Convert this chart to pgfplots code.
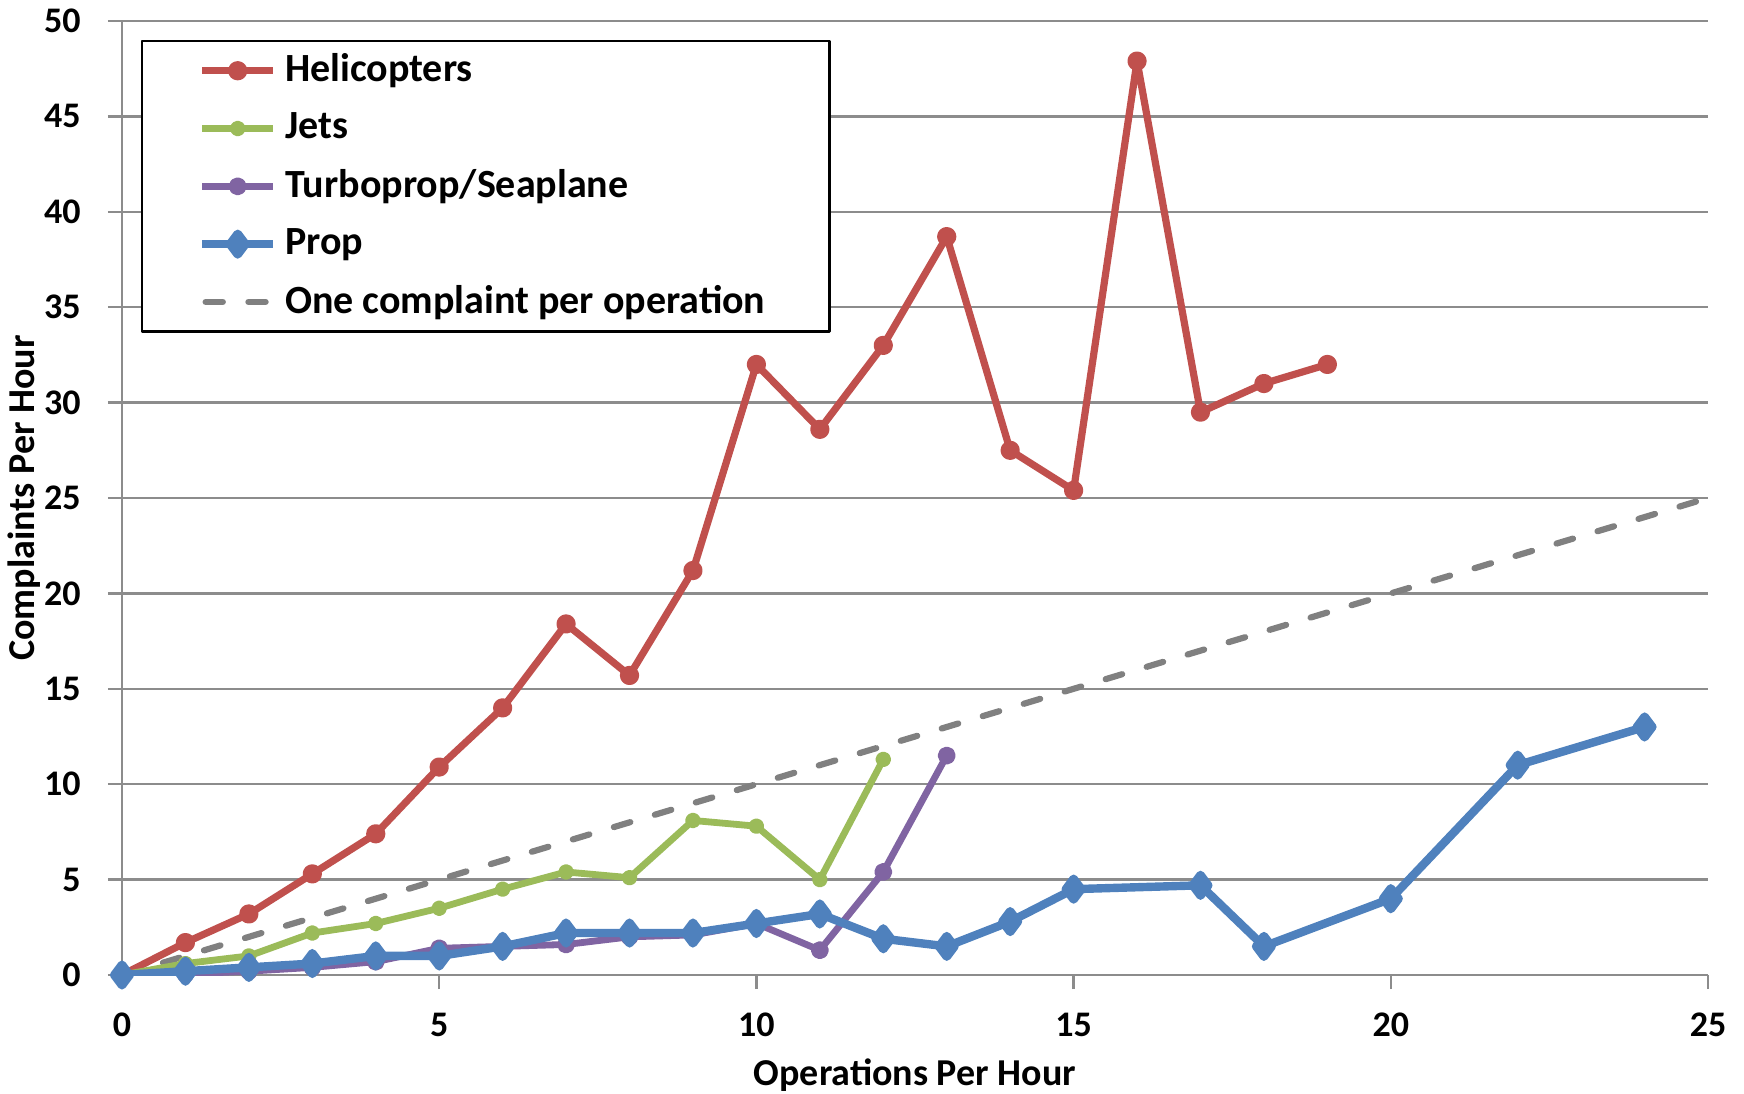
\documentclass[border=0pt]{standalone}
\usepackage{fontspec}
\setmainfont{Carlito}
\usepackage{pgfplots}
\pgfplotsset{compat=1.18}
\definecolor{cRed}{HTML}{C0504D}
\definecolor{cGreen}{HTML}{9BBB59}
\definecolor{cPurple}{HTML}{8064A2}
\definecolor{cBlue}{HTML}{4F81BD}
\definecolor{cGray}{HTML}{808080}
\definecolor{cGrid}{HTML}{8C8C8C}
\begin{document}
\begin{tikzpicture}
\begin{axis}[
  at={(0,0)}, anchor=south west,
  scale only axis, width=396.5pt, height=238.5pt,
  xmin=0, xmax=25, ymin=0, ymax=50,
  xtick={0,5,...,25}, ytick={0,5,...,50},
  axis lines*=left,
  axis line style={cGrid, line width=0.6pt},
  tick style={cGrid, line width=0.6pt},
  tick align=outside, major tick length=3.5pt,
  ymajorgrids, grid style={cGrid, line width=0.6pt},
  font=\bfseries\fontsize{9.5}{11}\selectfont,
  tick label style={font=\bfseries\fontsize{9}{11}\selectfont},
  /pgf/number format/assume math mode=true,
  xticklabel style={yshift=-2.5pt},
  yticklabel style={xshift=-3.3pt},
  xlabel={Operations Per Hour},
  ylabel={Complaints Per Hour},
  xlabel style={at={(axis description cs:0.5,0)}, anchor=center, yshift=-25pt},
  ylabel style={at={(axis description cs:0,0.5)}, anchor=center, yshift=24.4pt},
  legend style={at={(0.012,0.98)}, anchor=north west, draw=black, line width=0.6pt,
    font=\bfseries\fontsize{10}{12}\selectfont, inner xsep=14pt, inner ysep=1.1pt,
    row sep=2.2pt, cells={anchor=west}},
  legend image code/.code={
    \draw[mark repeat=2, mark phase=2] plot coordinates {(0cm,0cm) (0.31cm,0cm) (0.62cm,0cm)};},
  line join=round,
]
\addplot[forget plot, cGray, line width=1.55pt, line cap=round, dash pattern=on 4.3pt off 6.4pt] coordinates {(0,0) (25,25)};
\addplot[cRed, line width=1.8pt, mark=*, mark size=1.5pt, mark options={solid}] coordinates {
(0,0) (1,1.7) (2,3.2) (3,5.3) (4,7.4) (5,10.9) (6,14.0) (7,18.4) (8,15.7) (9,21.2)
(10,32.0) (11,28.6) (12,33.0) (13,38.7) (14,27.5) (15,25.4) (16,47.9) (17,29.5) (18,31.0) (19,32.0)};
\addlegendentry{Helicopters}
\addplot[cGreen, line width=1.7pt, mark=*, mark size=1.1pt] coordinates {
(0,0) (1,0.6) (2,1.0) (3,2.2) (4,2.7) (5,3.5) (6,4.5) (7,5.4) (8,5.1) (9,8.1)
(10,7.8) (11,5.0) (12,11.3)};
\addlegendentry{Jets}
\addplot[cPurple, line width=1.7pt, mark=*, mark size=1.4pt] coordinates {
(0,0) (1,0.05) (2,0.2) (3,0.4) (4,0.7) (5,1.4) (6,1.5) (7,1.6) (8,2.0) (9,2.1)
(10,2.7) (11,1.3) (12,5.4) (13,11.5)};
\addlegendentry{Turboprop/Seaplane}
\addplot[cBlue, line width=2.1pt, mark=diamond*, mark size=2.6pt] coordinates {
(0,0) (1,0.2) (2,0.4) (3,0.6) (4,1.0) (5,1.0) (6,1.5) (7,2.2) (8,2.2) (9,2.2)
(10,2.7) (11,3.2) (12,1.9) (13,1.5) (14,2.8) (15,4.5) (17,4.7) (18,1.5) (20,4.0) (22,11.0) (24,13.0)};
\addlegendentry{Prop}
\addlegendimage{cGray, line width=1.55pt, line cap=round, dash pattern=on 4.3pt off 6.4pt, dash phase=-0.8pt, no marks}
\addlegendentry{One complaint per operation}
\end{axis}
\pgfresetboundingbox
\path[use as bounding box] (-30.5pt,-29.5pt) rectangle (405.5pt,243.75pt);
\end{tikzpicture}
\end{document}
